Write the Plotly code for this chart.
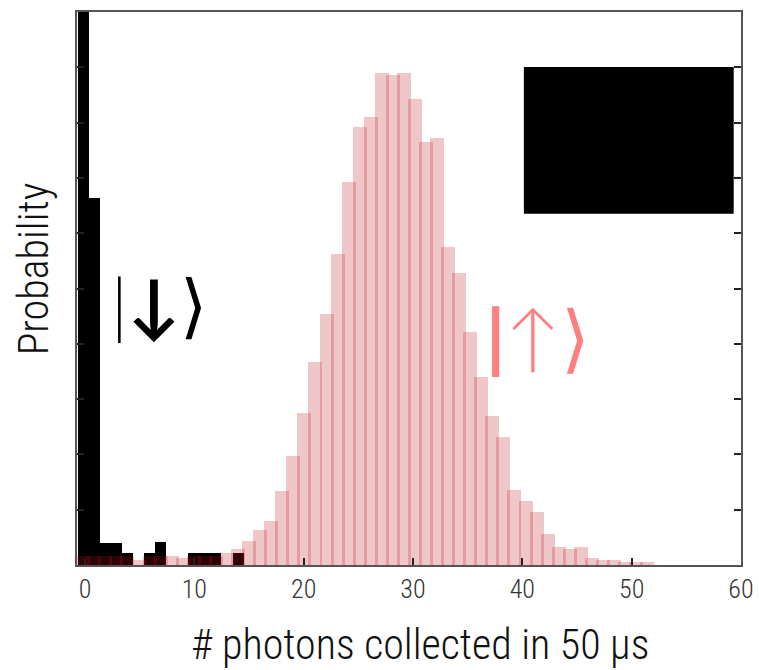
import plotly.graph_objects as go

# bin centres (# photons), shared by both histograms
bin_centers = [-0.16, 0.85, 1.86, 2.87, 3.88, 4.90, 5.91, 6.92, 7.93, 8.94,
               9.95, 10.96, 11.97, 12.99, 14.00, 15.01, 16.02, 17.03, 18.04, 19.05,
               20.06, 21.08, 22.09, 23.10, 24.11, 25.12, 26.13, 27.14, 28.15, 29.16,
               30.18, 31.19, 32.20, 33.21, 34.22, 35.23, 36.24, 37.25, 38.27, 39.28,
               40.29, 41.30, 42.31, 43.32, 44.33, 45.34, 46.36, 47.37, 48.38, 49.39,
               50.40, 51.41]

# |down> (dark state) probabilities, first 15 bins
down_prob = [0.50, 0.0663, 0.0040, 0.0040, 0.0022, 0.0, 0.0022, 0.0042, 0.0, 0.0,
             0.0022, 0.0022, 0.0022, 0.0, 0.0022]

# |up> (bright state) probabilities
up_prob = [0.0016, 0.0016, 0.0016, 0.0016, 0.0016, 0.0009, 0.0016, 0.0016, 0.0016, 0.0013,
           0.0016, 0.0016, 0.0016, 0.0022, 0.0029, 0.0043, 0.0063, 0.0080, 0.0134, 0.0197,
           0.0275, 0.0367, 0.0454, 0.0562, 0.0693, 0.0792, 0.0810, 0.0890, 0.0886, 0.0890,
           0.0843, 0.0765, 0.0772, 0.0575, 0.0528, 0.0421, 0.0340, 0.0269, 0.0231, 0.0136,
           0.0116, 0.0096, 0.0056, 0.0033, 0.0029, 0.0033, 0.0013, 0.0009, 0.0009, 0.0005,
           0.0005, 0.0005]

x_ticks = [0, 10, 20, 30, 40, 50, 60]

FONT = "Roboto Condensed, Roboto, sans-serif"

fig = go.Figure()
fig.add_trace(go.Bar(x=bin_centers[:len(down_prob)], y=down_prob, width=1.011,
                     marker=dict(color="black", line=dict(width=0)), name="down"))
fig.add_trace(go.Bar(x=bin_centers, y=up_prob, width=1.28,
                     marker=dict(color="rgb(190,15,20)", opacity=0.23, line=dict(width=0)),
                     name="up"))

fig.update_layout(
    width=759, height=670,
    margin=dict(l=77, r=18, t=12, b=105),
    barmode="overlay", bargap=0,
    showlegend=False,
    plot_bgcolor="white", paper_bgcolor="white",
    font=dict(family=FONT, color="#222", weight=300),
    xaxis=dict(range=[-0.73, 60], tickvals=x_ticks, ticktext=[str(v) for v in x_ticks],
               ticks="inside", ticklen=7, tickcolor="#222", tickwidth=1.5,
               showline=True, linecolor="#555", linewidth=1.5, mirror=True,
               showgrid=False, zeroline=False, automargin=False,
               tickfont=dict(size=26, family=FONT, color="#333", weight=300)),
    yaxis=dict(range=[0, 0.1], dtick=0.01, showticklabels=False,
               ticks="inside", ticklen=7, tickcolor="#222", tickwidth=1.5,
               showline=True, linecolor="#555", linewidth=1.5, mirror="ticks",
               showgrid=False, zeroline=False, automargin=False),
    shapes=[dict(type="rect", xref="paper", yref="paper",
                 x0=0.673, x1=0.989, y0=0.635, y1=0.9005,
                 fillcolor="black", line=dict(width=0))],
    annotations=[
        dict(text="# photons collected in 50 μs", x=0.5166, y=-0.143, xref="paper", yref="paper",
             xanchor="center", yanchor="middle", showarrow=False,
             font=dict(size=42, family=FONT, color="#111", weight=300)),
        dict(text="Probability", x=-0.066, y=0.535, xref="paper", yref="paper",
             xanchor="center", yanchor="middle", textangle=-90, showarrow=False,
             font=dict(size=42, family=FONT, color="#111", weight=300)),
        dict(text="|<b>↓</b>⟩", x=6.8, y=0.0474, xref="x", yref="y", showarrow=False,
             font=dict(size=70, color="black", family="Lato")),
        dict(text="<b>|</b>↑⟩", x=41.4, y=0.0415, xref="x", yref="y", showarrow=False,
             font=dict(size=74, color="#FF7F7F", family="Lato")),
    ],
)

fig.write_html("out.html")
